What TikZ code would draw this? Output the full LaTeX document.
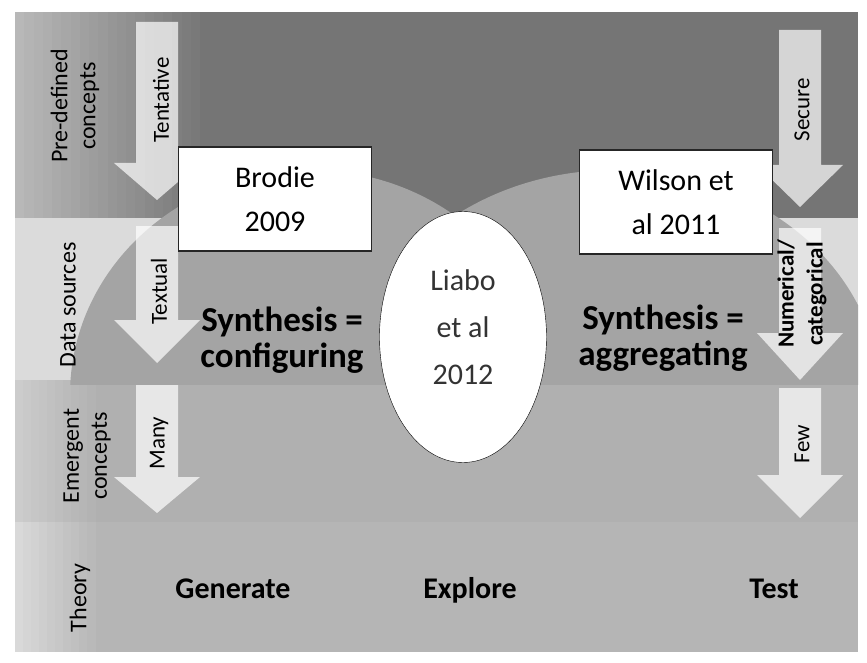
\documentclass[tikz,border=0pt]{standalone}
\usepackage{fontspec}
\setmainfont{Carlito}
\usetikzlibrary{positioning,shapes.geometric}

\definecolor{darkband}{gray}{0.46}
\definecolor{darkpale}{gray}{0.72}
\definecolor{paleband}{gray}{0.86}
\definecolor{midband}{gray}{0.69}
\definecolor{midpale}{gray}{0.80}
\definecolor{lowband}{gray}{0.71}
\definecolor{lowpale}{gray}{0.85}
\definecolor{bulge}{gray}{0.645}

\tikzset{
  rowlabel/.style={rotate=90, align=center, font=\fontsize{24}{28}\selectfont},
  arrowlabel/.style={rotate=90, align=center, font=\fontsize{23}{29}\selectfont},
  refbox/.style={draw=black!85, line width=1.2pt, fill=white, minimum width=193pt,
    minimum height=104pt, inner sep=0pt, align=center, font=\fontsize{30}{44}\selectfont},
  synth/.style={align=center, font=\fontsize{35}{36}\selectfont\bfseries},
  aim/.style={anchor=base, font=\fontsize{30}{36}\selectfont\bfseries},
  blockarrow/.style={fill=white, fill opacity=0.7},
}

% x, top of shaft, start of head, tip
\newcommand{\dnarrow}[4]{%
  \fill[blockarrow] (#1-21,#2) -- (#1+21,#2) -- (#1+21,#3) -- (#1+43,#3)
    -- (#1,#4) -- (#1-43,#3) -- (#1-21,#3) -- cycle;}

\begin{document}
\begin{tikzpicture}[x=1pt,y=-1pt]
      \useasboundingbox (0,0) rectangle (867,663);
      \fill[white] (0,0) rectangle (867,663);

      \fill[darkband] (15,12) rectangle (858,218);
      \foreach \k [evaluate=\k as \p using int(5*\k)] in {0,...,19}
        \fill[darkband!\p!darkpale] (15+\k*9.25,12) rectangle (24.5+\k*9.25,218);
      \fill[paleband] (15,218) rectangle (858,380);
      \fill[midband] (15,380) rectangle (858,522);
      \fill[lowband] (15,522) rectangle (858,652);
      \foreach \k [evaluate=\k as \p using int(10*\k)] in {0,...,9} {
        \fill[midband!\p!midpale] (15+\k*8,380) rectangle (23.5+\k*8,522);
        \fill[lowband!\p!lowpale] (15+\k*8,522) rectangle (23.5+\k*8,652);
      }

      \begin{scope}
        \clip (15,12) rectangle (858,384);
        \fill[bulge] (310,395) ellipse [x radius=240, y radius=225];
        \fill[bulge] (615,395) ellipse [x radius=265, y radius=225];
      \end{scope}

      \dnarrow{157}{22}{163}{200}
      \dnarrow{157}{226}{320}{363}
      \dnarrow{157}{385}{477}{513}
      \dnarrow{800}{30}{165}{207}
      \dnarrow{800}{228}{333}{380}
      \dnarrow{800}{388}{475}{518}

      \node[rowlabel] (predef) at (75,106) {Pre-defined\\concepts};
      \node[rowlabel] (data) at (68,305) {Data sources};
      \node[rowlabel] (emerg) at (87,456) {Emergent\\concepts};
      \node[rowlabel] (theory) at (80,598) {Theory};

      \node[arrowlabel] (tent) at (161,100) {Tentative};
      \node[arrowlabel] (textual) at (159,291) {Textual};
      \node[arrowlabel] (many) at (159,443) {Many};
      \node[arrowlabel] (secure) at (802,110) {Secure};
      \node[arrowlabel, font=\fontsize{23}{29}\selectfont\bfseries] (numer) at (802,294) {Numerical/\\categorical};
      \node[arrowlabel] (few) at (802,444) {Few};

      \node[refbox] (brodie) at (275,199) {Brodie\\2009};
      \node[refbox] (wilson) at (676,202) {Wilson et\\al 2011};

      \node[ellipse, draw=black, thin, fill=white, minimum width=167pt,
        minimum height=251pt, inner sep=0pt] (liabo) at (463,337) {};
      \node[align=center, font=\fontsize{30}{47}\selectfont, text=black!80]
        (liabotxt) at ([yshift=10pt]liabo.center) {Liabo\\et al\\2012};

      \node[synth] (config) at (282,340) {Synthesis =\\configuring};
      \node[synth] (aggr) at (663,338) {Synthesis =\\aggregating};

      \node[aim] (explore) at (470,598) {Explore};
      \node[aim] (generate) at (233,598) {Generate};
      \node[aim] (test) at (774,598) {Test};
    \end{tikzpicture}
\end{document}
